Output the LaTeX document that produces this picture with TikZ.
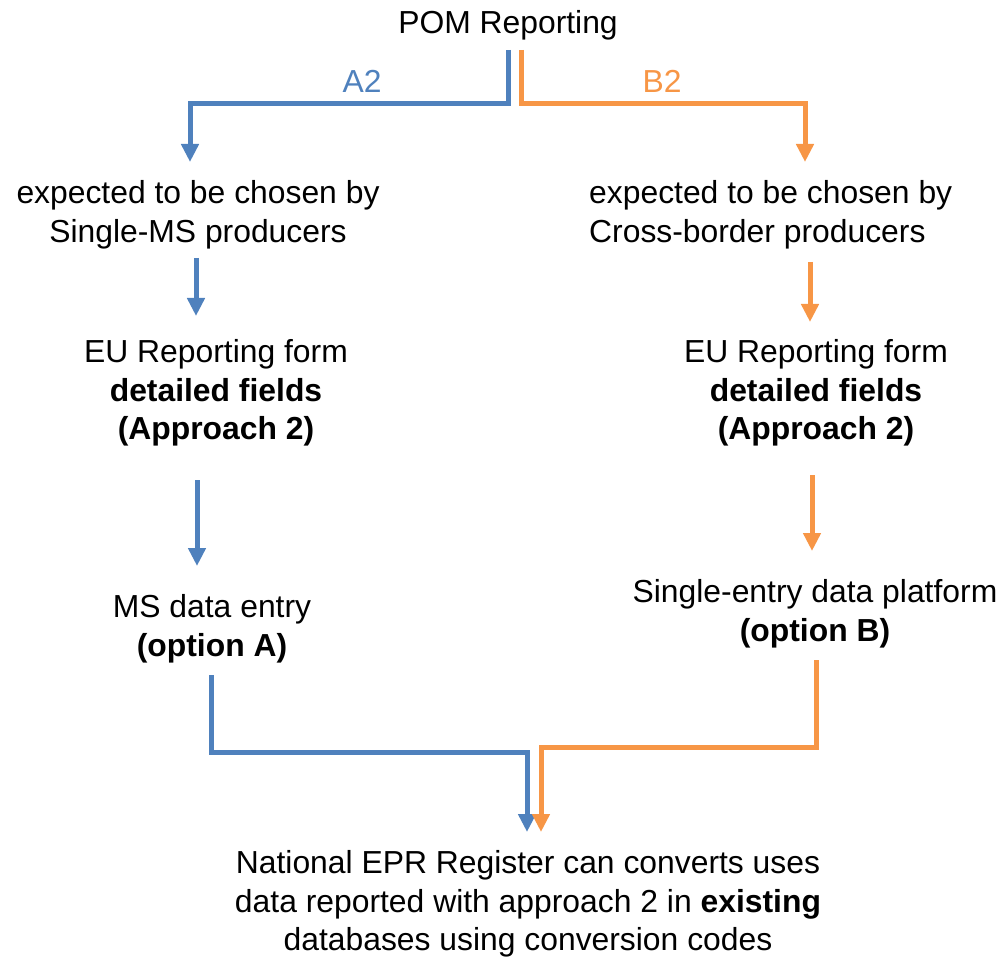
\documentclass[tikz,border=0pt]{standalone}
\usepackage{fontspec}
\setmainfont{Liberation Sans}
\usetikzlibrary{arrows.meta}
\definecolor{cblue}{HTML}{4F81BD}
\definecolor{corange}{HTML}{F79646}
\begin{document}
\begin{tikzpicture}[x=1pt,y=-1pt,
  txt/.style={inner sep=0pt,align=center,font=\fontsize{31.85}{38.5}\selectfont},
  conn/.style={line width=5pt,line cap=butt,line join=miter,-{Triangle[width=17pt,length=18pt]}},
  bconn/.style={conn,draw=cblue},
  oconn/.style={conn,draw=corange}]
\useasboundingbox (0,0) rectangle (1003,957);
% text nodes
\node[txt] (pom) at (508,25) {POM Reporting};
\node[txt,text=cblue] (la2) at (362,81) {A2};
\node[txt,text=corange] (lb2) at (662,81) {B2};
\node[txt] (exA) at (198,215) {expected to be chosen by\\Single-MS producers};
\node[txt,align=left,anchor=west] (exB) at (589,215) {expected to be chosen by\\Cross-border producers};
\node[txt] (euA) at (216,393) {EU Reporting form\\\textbf{detailed fields}\\\textbf{(Approach 2)}};
\node[txt] (euB) at (816,393) {EU Reporting form\\\textbf{detailed fields}\\\textbf{(Approach 2)}};
\node[txt] (msA) at (212,629) {MS data entry\\\textbf{(option A)}};
\node[txt] (seB) at (815,614) {Single-entry data platform\\\textbf{(option B)}};
\node[txt] (nat) at (528,904) {National EPR Register can converts uses\\data reported with approach 2 in \textbf{existing}\\databases using conversion codes};
% connector end points
\coordinate (a1s) at (508,50);  \coordinate (a1e) at (190,162);
\coordinate (b1s) at (521,50);  \coordinate (b1e) at (805,162);
\coordinate (a2s) at (196,258); \coordinate (a2e) at (196,316);
\coordinate (b2s) at (810,262); \coordinate (b2e) at (810,322);
\coordinate (a3s) at (197,480); \coordinate (a3e) at (197,566);
\coordinate (b3s) at (812,475); \coordinate (b3e) at (812,551);
\coordinate (a4s) at (211,675); \coordinate (a4e) at (527,832);
\coordinate (b4s) at (816,660); \coordinate (b4e) at (541,832);
% connectors
\draw[bconn] (a1s) |- (190,104) -- (a1e);
\draw[oconn] (b1s) |- (805,104) -- (b1e);
\draw[bconn] (a2s) -- (a2e);
\draw[oconn] (b2s) -- (b2e);
\draw[bconn] (a3s) -- (a3e);
\draw[oconn] (b3s) -- (b3e);
\draw[bconn] (a4s) |- (527,752) -- (a4e);
\draw[oconn] (b4s) |- (541,747) -- (b4e);
\end{tikzpicture}
\end{document}
